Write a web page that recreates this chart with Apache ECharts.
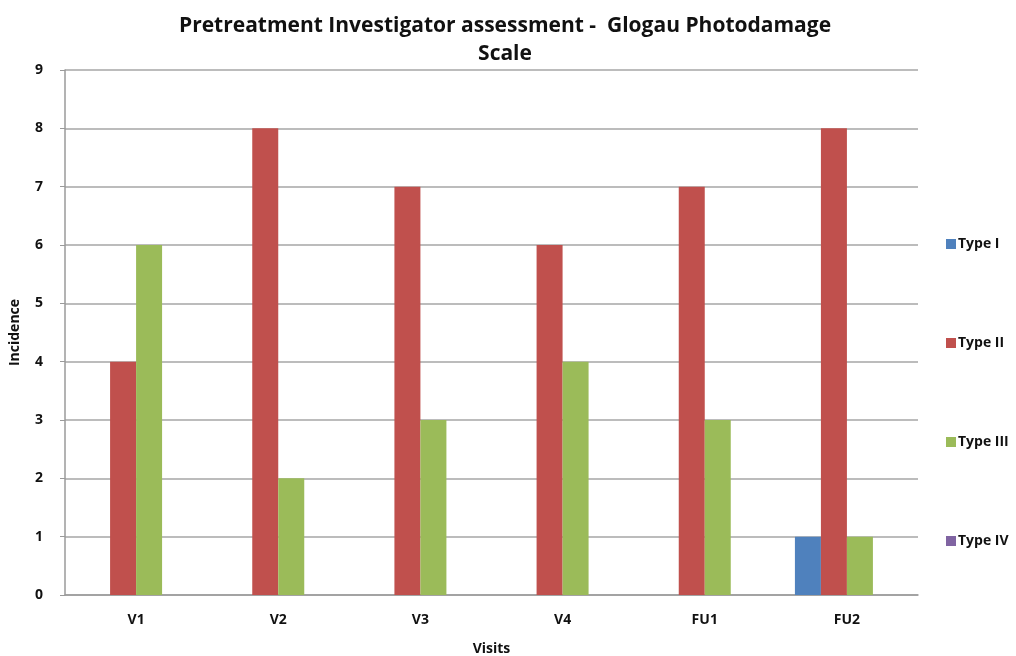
<!DOCTYPE html>
<html><head><meta charset="utf-8">
<script src="https://cdn.jsdelivr.net/npm/echarts@6/dist/echarts.min.js"></script>
<style>html,body{margin:0;padding:0;background:#fff}#c{width:1016px;height:656px}</style>
</head><body><div id="c"></div>
<script>
const categories = ['V1','V2','V3','V4','FU1','FU2'];
const typeI = [0,0,0,0,0,1];
const typeII = [4,8,7,6,7,8];
const typeIII = [6,2,3,4,3,1];
const typeIV = [0,0,0,0,0,0];
const seriesNames = ['Type I','Type II','Type III','Type IV'];
const colors = ['#4F81BD','#C0504D','#9BBB59','#8064A2'];
const font = '"Open Sans", sans-serif';
const chart = echarts.init(document.getElementById('c'));
const data = [typeI, typeII, typeIII, typeIV];
chart.setOption({
  animation: false,
  title: {
    text: 'Pretreatment Investigator assessment -  Glogau Photodamage\nScale',
    left: 500, textAlign: 'center', top: 7,
    textStyle: {fontFamily: font, fontWeight: 'bold', fontSize: 21, color: '#111', lineHeight: 28}
  },
  legend: {
    orient: 'vertical', left: 941, top: 232, itemGap: 85,
    itemWidth: 10, itemHeight: 10, icon: 'rect',
    textStyle: {fontFamily: font, fontWeight: 'bold', fontSize: 14, color: '#111', padding: [0,0,0,-3]},
    data: seriesNames
  },
  grid: {left: 65, right: 98, top: 70, bottom: 61, outerBoundsMode: 'none', containLabel: false},
  xAxis: {
    type: 'category', data: categories,
    name: 'Visits', nameLocation: 'middle', nameGap: 47,
    nameTextStyle: {fontFamily: font, fontWeight: 'bold', fontSize: 14, color: '#111'},
    axisLine: {lineStyle: {color: '#9a9a9a', width: 1.5}},
    axisTick: {show: false},
    axisLabel: {fontFamily: font, fontWeight: 'bold', fontSize: 14, color: '#111', margin: 18}
  },
  yAxis: {
    type: 'value', min: 0, max: 9, interval: 1,
    name: 'Incidence', nameLocation: 'middle', nameGap: 43,
    nameTextStyle: {fontFamily: font, fontWeight: 'bold', fontSize: 14, color: '#111'},
    axisLine: {show: true, lineStyle: {color: '#9a9a9a', width: 1.5}},
    axisTick: {show: true, length: 5, lineStyle: {color: '#9a9a9a'}},
    axisLabel: {fontFamily: font, fontWeight: 'bold', fontSize: 14, color: '#111', margin: 22},
    splitLine: {lineStyle: {color: '#a6a6a6', width: 1.5}}
  },
  series: seriesNames.map((n, i) => ({
    name: n, type: 'bar', data: data[i],
    barWidth: 26, barGap: '0%',
    itemStyle: {color: colors[i]}
  }))
});
</script></body></html>
